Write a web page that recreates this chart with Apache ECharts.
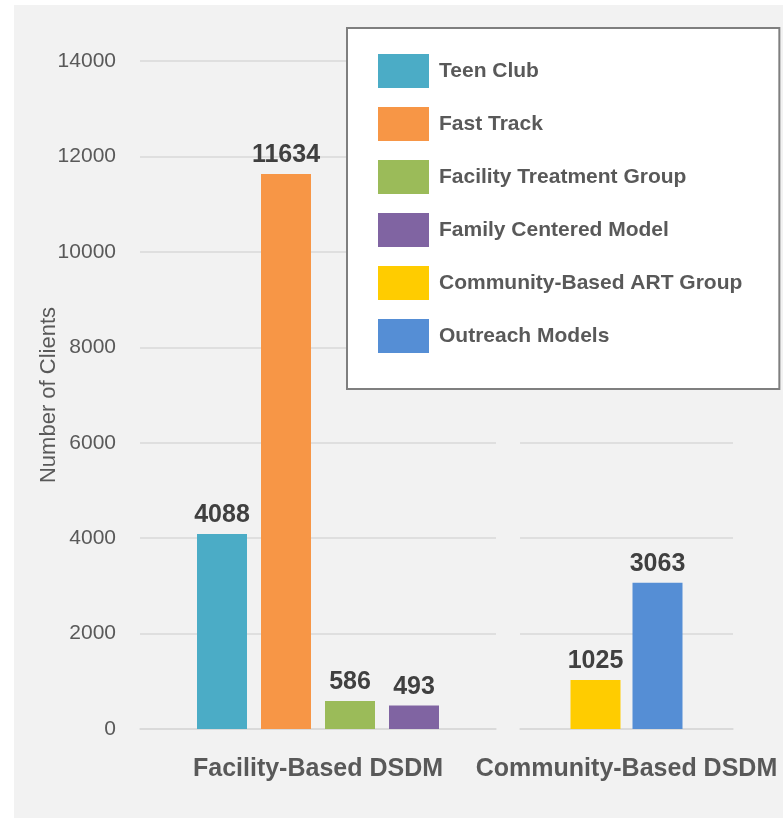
<!DOCTYPE html>
<html>
<head>
<meta charset="utf-8">
<script src="https://cdn.jsdelivr.net/npm/echarts@6/dist/echarts.min.js"></script>
<style>
  html, body { margin: 0; padding: 0; background: #fff; }
  #chart { width: 783px; height: 818px; }
</style>
</head>
<body>
<div id="chart"></div>
<script>
// data
const groups = ['Facility-Based DSDM', 'Community-Based DSDM']
const facilityModels = ['Teen Club', 'Fast Track', 'Facility Treatment Group', 'Family Centered Model']
const facilityValues = [4088, 11634, 586, 493]
const communityModels = ['Community-Based ART Group', 'Outreach Models']
const communityValues = [1025, 3063]
const yTicks = [0, 2000, 4000, 6000, 8000, 10000, 12000, 14000]

const colors = ['#4bacc6', '#f79646', '#9bbb59', '#8064a2', '#ffcc00', '#558ed5']

const font = "'Liberation Sans', Arial, sans-serif"

const chart = echarts.init(document.getElementById('chart'))

const makeBar = (name, value, axisIdx, color, gap) => ({
  name: name,
  type: 'bar',
  xAxisIndex: axisIdx,
  yAxisIndex: axisIdx,
  data: [value],
  barWidth: 50,
  barGap: gap,
  itemStyle: { color: color },
  label: {
    show: true,
    position: 'top',
    distance: 6,
    fontFamily: font,
    fontWeight: 'bold',
    fontSize: 25,
    color: '#404040',
  },
})

const series = []
facilityModels.forEach((m, i) => series.push(makeBar(m, facilityValues[i], 0, colors[i], '28%')))
communityModels.forEach((m, i) => series.push(makeBar(m, communityValues[i], 1, colors[4 + i], '24%')))

const yBase = {
  type: 'value',
  min: yTicks[0],
  max: yTicks[yTicks.length - 1],
  interval: 2000,
  axisLine: { show: false },
  axisTick: { show: false },
  splitLine: { lineStyle: { color: '#d9d9d9', width: 1.5 } },
}

const xLabel = { margin: 28, fontFamily: font, fontWeight: 'bold', fontSize: 25, color: '#595959' }

const option = {
  animation: false,
  backgroundColor: '#ffffff',
  graphic: [
    {
      type: 'rect',
      z: -10,
      shape: { x: 14, y: 5, width: 783, height: 818 },
      style: { fill: '#f2f2f2' },
    },
  ],
  grid: [
    { left: 140, top: 61, width: 356, bottom: 89, outerBoundsMode: 'none' },
    { left: 520, top: 61, width: 213, bottom: 89, outerBoundsMode: 'none' },
  ],
  legend: {
    orient: 'vertical',
    left: 347,
    top: 28,
    padding: [26, 37, 36, 31],
    backgroundColor: '#ffffff',
    borderColor: '#7f7f7f',
    borderWidth: 2,
    icon: 'rect',
    itemWidth: 51,
    itemHeight: 34,
    itemGap: 19,
    textStyle: {
      fontFamily: font,
      fontWeight: 'bold',
      fontSize: 21,
      color: '#595959',
      padding: [7, 0, 0, 5],
    },
    data: facilityModels.concat(communityModels),
  },
  xAxis: [
    {
      type: 'category',
      gridIndex: 0,
      data: [groups[0]],
      axisLine: { lineStyle: { color: '#d9d9d9', width: 1.5 } },
      axisTick: { show: false },
      axisLabel: xLabel,
    },
    {
      type: 'category',
      gridIndex: 1,
      data: [groups[1]],
      axisLine: { lineStyle: { color: '#d9d9d9', width: 1.5 } },
      axisTick: { show: false },
      axisLabel: xLabel,
    },
  ],
  yAxis: [
    Object.assign({}, yBase, {
      gridIndex: 0,
      name: 'Number of Clients',
      nameLocation: 'middle',
      nameGap: 80,
      nameMoveOverlap: false,
      nameTextStyle: { fontFamily: font, fontSize: 22, color: '#595959' },
      axisLabel: {
        margin: 24,
        fontFamily: font,
        fontSize: 21,
        color: '#595959',
        formatter: (v) => String(v),
      },
    }),
    Object.assign({}, yBase, {
      gridIndex: 1,
      axisLabel: { show: false },
    }),
  ],
  series: series,
}

chart.setOption(option)
</script>
</body>
</html>
